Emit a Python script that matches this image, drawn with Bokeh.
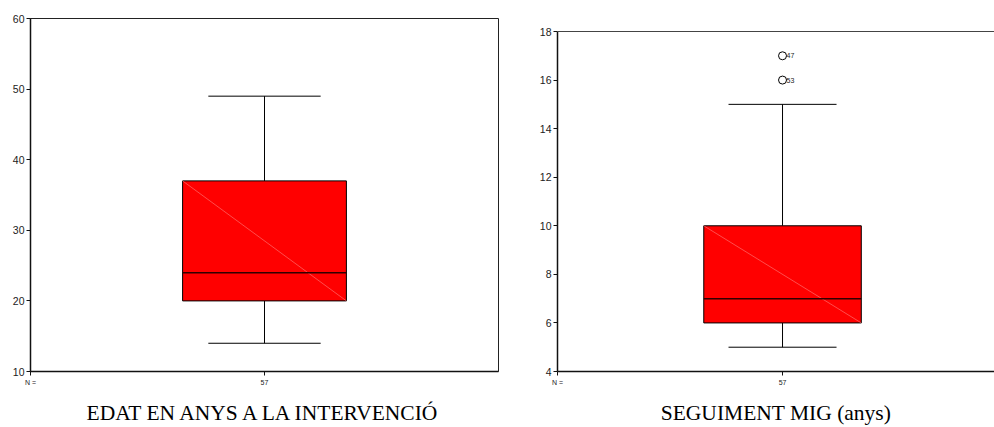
from bokeh.plotting import figure
from bokeh.layouts import row
from bokeh.models import Range1d, FixedTicker, Span, ColumnDataSource
from bokeh.core.properties import value
from bokeh.embed import file_html
from bokeh.resources import INLINE

# ---- data ----
left_title = "EDAT EN ANYS A LA INTERVENCIÓ"
left_n = "57"
left_min, left_q1, left_median, left_q3, left_max = 14, 20, 24, 37, 49
left_yticks = [10, 20, 30, 40, 50, 60]

right_title = "SEGUIMENT MIG (anys)"
right_n = "57"
right_min, right_q1, right_median, right_q3, right_max = 5, 6, 7, 10, 15
right_outliers = [17, 16]
right_outlier_ids = ["47", "53"]
right_yticks = [4, 6, 8, 10, 12, 14, 16, 18]

CENTER = 0.5
BOX_W = 0.35
CAP_W = 0.24

# frames of the two panels are aligned by the row layout; the right panel's
# axis stops lower than the left panel's frame top
FRAME_TOP = 18
FRAME_BOTTOM = 371
RIGHT_AXIS_TOP_PX = 31
right_span = (right_yticks[-1] - right_yticks[0]) * (FRAME_BOTTOM - FRAME_TOP) / (FRAME_BOTTOM - RIGHT_AXIS_TOP_PX)


def style(p, n_label, title, yticks, label_standoff):
    p.grid.visible = False
    p.background_fill_color = "white"
    p.border_fill_color = "white"
    # y axis
    p.yaxis.ticker = FixedTicker(ticks=yticks)
    p.yaxis.bounds = (yticks[0], yticks[-1])
    p.yaxis.minor_tick_line_color = None
    p.yaxis.major_tick_in = 0
    p.yaxis.major_tick_out = 4
    p.yaxis.major_label_standoff = 2
    p.yaxis.major_label_text_font = "Liberation Sans"
    p.yaxis.major_label_text_font_size = "10.5px"
    p.yaxis.major_label_text_color = "#222222"
    p.yaxis.axis_line_width = 1.5
    p.yaxis.axis_line_color = "#111111"
    p.yaxis.major_tick_line_color = "#111111"
    # x axis
    p.xaxis.ticker = FixedTicker(ticks=[0.0, CENTER])
    p.xaxis.major_label_overrides = {0.0: "N =", CENTER: n_label}
    p.xaxis.minor_tick_line_color = None
    p.xaxis.major_tick_in = 0
    p.xaxis.major_tick_out = 4
    p.xaxis.major_label_standoff = 3
    p.xaxis.major_label_text_font = "Liberation Sans"
    p.xaxis.major_label_text_font_size = "7px"
    p.xaxis.major_label_text_color = "#222222"
    p.xaxis.axis_line_width = 1.5
    p.xaxis.axis_line_color = "#111111"
    p.xaxis.major_tick_line_color = "#111111"
    p.xaxis.axis_label = title
    p.xaxis.axis_label_text_font = "Liberation Serif"
    p.xaxis.axis_label_text_font_size = "21.5px"
    p.xaxis.axis_label_text_font_style = "normal"
    p.xaxis.axis_label_text_color = "black"
    p.xaxis.axis_label_standoff = label_standoff


def draw_box(p, mn, q1, med, q3, mx):
    left = CENTER - BOX_W / 2
    right = CENTER + BOX_W / 2
    # whiskers
    p.segment(x0=[CENTER, CENTER], y0=[q3, mn], x1=[CENTER, CENTER], y1=[mx, q1],
              line_color="black", line_width=1)
    p.segment(x0=[CENTER - CAP_W / 2] * 2, y0=[mx, mn],
              x1=[CENTER + CAP_W / 2] * 2, y1=[mx, mn],
              line_color="black", line_width=1)
    # box
    p.quad(left=[left], right=[right], bottom=[q1], top=[q3],
           fill_color="#ff0000", line_color="black", line_width=1)
    # rendering artifact diagonal
    p.segment(x0=[left], y0=[q3], x1=[right], y1=[q1],
              line_color="#ff8080", line_width=0.6)
    # median
    p.segment(x0=[left], y0=[med], x1=[right], y1=[med],
              line_color="#300000", line_width=1.5)


# ---- left chart ----
p1 = figure(width=500, height=427, output_backend="svg", toolbar_location=None,
            title=None,
            x_range=Range1d(0, 1), y_range=Range1d(left_yticks[0], left_yticks[-1]),
            min_border_left=30, min_border_right=2, min_border_top=FRAME_TOP,
            min_border_bottom=427 - FRAME_BOTTOM)
style(p1, left_n, left_title, left_yticks, 12)
p1.outline_line_color = "#222222"
p1.outline_line_width = 1
draw_box(p1, left_min, left_q1, left_median, left_q3, left_max)

# ---- right chart (frame extends beyond the page on the right) ----
p2 = figure(width=494, height=427, output_backend="svg", toolbar_location=None,
            title=None,
            x_range=Range1d(0, 0.971),
            y_range=Range1d(right_yticks[0], right_yticks[0] + right_span),
            min_border_left=57, min_border_right=0, min_border_top=FRAME_TOP,
            min_border_bottom=427 - FRAME_BOTTOM)
style(p2, right_n, right_title, right_yticks, 12)
p2.outline_line_color = None
p2.add_layout(Span(location=right_yticks[-1], dimension="width",
                   line_color="#444444", line_width=1))
draw_box(p2, right_min, right_q1, right_median, right_q3, right_max)

src = ColumnDataSource(dict(x=[CENTER] * len(right_outliers), y=right_outliers,
                            t=right_outlier_ids))
p2.scatter(x="x", y="y", source=src, size=8, marker="circle",
           fill_color="white", line_color="black", line_width=1)
p2.text(x="x", y="y", text="t", source=src, x_offset=4,
        text_baseline="middle", text_align="left",
        text_font=value("Liberation Sans"), text_font_size="7px",
        text_color="#222222")

layout = row(p1, p2)
open("out.html", "w").write(file_html(layout, INLINE))
